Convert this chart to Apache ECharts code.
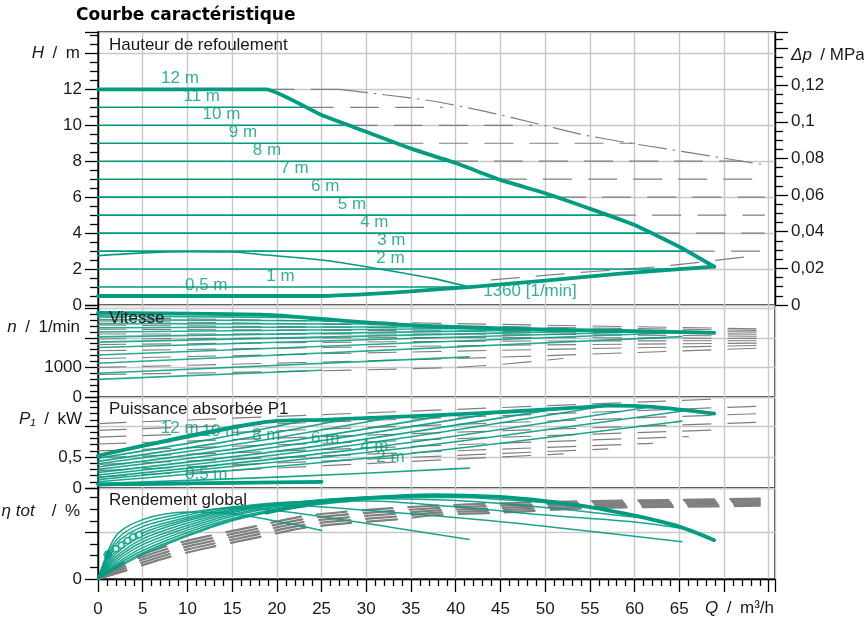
<!DOCTYPE html>
<html><head><meta charset="utf-8">
<script src="https://cdn.jsdelivr.net/npm/echarts@6/dist/echarts.min.js"></script>
<style>html,body{margin:0;padding:0;background:#fff}#c{width:864px;height:619px}</style>
</head><body><div id="c"></div>
<script>
// ---------- data ----------
const heads      = [12, 11, 10, 9, 8, 7, 6, 5, 4, 3, 2, 1, 0.5];
const headEndQ   = [18.8, 23.2, 28.1, 33.2, 39.3, 44.8, 51.4, 57.0, 61.9, 65.8, 65.3, 41.5, 25];
const maxCurveQ  = [0, 18.8, 25, 30, 35, 40, 45, 50, 55, 60, 65, 68.9];
const maxCurveH  = [12, 12, 10.57, 9.64, 8.7, 7.9, 6.96, 6.22, 5.36, 4.45, 3.24, 2.13];
const minCurveQ  = [0, 25, 30, 35, 41.5, 50, 58.4, 68.9];
const minCurveH  = [0.5, 0.5, 0.6, 0.76, 1.0, 1.36, 1.75, 2.13];
const rpm1360Q   = [0, 5, 10, 15, 18.8, 25, 30, 37.4, 41.5];
const rpm1360H   = [2.74, 2.9, 2.97, 2.95, 2.78, 2.5, 2.13, 1.48, 1.0];
const grayHeadLevels = [12, 11, 10, 9, 8, 7, 6, 5, 4, 3];
const grayHeadFromQ  = [18.8, 23.2, 28.1, 33.2, 39.3, 44.8, 51.4, 57.0, 61.9, 65.8];
const grayHeadToQ    = [27, 38.5, 48.5, 60, 72, 74.5, 74.5, 74.5, 74.5, 74.5];
const grayMaxQ = [27, 32, 37.4, 43, 49, 54, 59, 64, 69, 74.5];
const grayMaxH = [12, 11.7, 11.35, 10.8, 10.1, 9.5, 9.05, 8.65, 8.25, 7.8];
const grayMinQ = [44, 55, 63, 73.3];
const grayMinH = [1.4, 1.85, 2.15, 2.73];
const headLabelText = ['12 m','11 m','10 m','9 m','8 m','7 m','6 m','5 m','4 m','3 m','2 m','1 m','0,5 m','1360 [1/min]'];
const headLabelQ    = [9.17, 11.6, 13.8, 16.2, 18.9, 21.96, 25.4, 28.4, 30.9, 32.8, 32.7, 20.4, 12.1, 48.3];
const headLabelH    = [12.62, 11.59, 10.61, 9.59, 8.59, 7.61, 6.58, 5.6, 4.6, 3.58, 2.6, 1.58, 1.07, 0.74];

const speedStart = [2840, 2740, 2615, 2480, 2340, 2195, 2030, 1855, 1670, 1420, 1140, 800, 595];
const speedEnd   = [2775, 2680, 2565, 2465, 2373, 2322, 2275, 2244, 2214, 2188, 2040, 1356, 905];
const speedMaxQ  = [0, 18.8, 25, 30, 37.4, 48.3, 58.4, 68.9];
const speedMaxN  = [2840, 2775, 2640, 2520, 2390, 2290, 2237, 2169];
const speedGrayStart = [2700, 2570, 2430, 2290, 2130, 1960, 1770, 1560, 1300, 1000, 760];
const speedGrayMid   = [2480, 2400, 2320, 2230, 2130, 2010, 1880, 1730, 1550, 1300, 1000];
const speedGrayEndQ  = [74, 74, 74, 74, 74, 74, 74, 74, 74, 74, 52];
const speedGrayEnd   = [2300, 2250, 2190, 2120, 2050, 1980, 1900, 1820, 1740, 1650, 1300];

const powerStart = [0.52, 0.48, 0.43, 0.39, 0.34, 0.30, 0.25, 0.21, 0.17, 0.135, 0.10, 0.07, 0.04];
const powerMidQ  = [9.4, 11.6, 14.05, 16.6, 19.65, 22.4, 25.7, 28.5, 30.95, 32.9, 32.65, 20.75, 12.5];
const powerMid   = [0.79, 0.76, 0.74, 0.73, 0.72, 0.71, 0.70, 0.69, 0.66, 0.62, 0.52, 0.18, 0.065];
const powerEnd   = [1.065, 1.09, 1.12, 1.15, 1.18, 1.22, 1.28, 1.33, 1.31, 1.25, 1.08, 0.32, 0.10];
const powerMaxQ  = [0, 18.8, 25, 37.4, 48.3, 55, 57, 62, 68.9];
const powerMaxP  = [0.52, 1.065, 1.10, 1.17, 1.25, 1.31, 1.33, 1.31, 1.20];
const powerMinQ  = [0, 25];
const powerMinP  = [0.06, 0.10];
const powerGrayStart = [1.04, 0.93, 0.82, 0.71, 0.60, 0.49, 0.38, 0.28, 0.18];
const powerGrayEndQ  = [70, 74, 74, 74, 70, 66, 62, 57, 52];
const powerGrayEnd   = [1.44, 1.32, 1.20, 1.06, 0.94, 0.83, 0.72, 0.63, 0.55];
const powerLabelText = ['12 m', '10 m', '8 m', '6 m', '4 m', '2 m', '0,5 m'];
const powerLabelQ    = [9.14, 13.7, 18.8, 25.4, 30.9, 32.7, 12.1];
const powerLabelP    = [0.968, 0.915, 0.85, 0.80, 0.68, 0.50, 0.22];

const effH12  = [[0,0],[2,9],[5,21],[10,37],[15,50],[18.8,57]];
const effH11  = [[0,0],[2,10],[5,22.5],[10,38],[15,51],[20,59],[23.2,62]];
const effH10  = [[0,0],[2,11.5],[5,24.5],[10,40],[15,52],[20,60],[28.1,66.5]];
const effH9   = [[0,0],[2,13],[5,27],[10,42],[15,54],[20,61.5],[30,68.5],[33.2,69.5]];
const effH8   = [[0,0],[2,15],[5,29.5],[10,44],[15,55.5],[20,62.5],[30,69.5],[39.3,71.5]];
const effH7   = [[0,0],[2,17],[5,32],[10,46],[15,57],[20,63.5],[30,70],[40,72],[44.8,71]];
const effH6   = [[0,0],[2,19],[5,34.5],[10,48],[15,58],[20,64],[30,70.5],[40,71.5],[51.4,66.5]];
const effH5   = [[0,0],[2,21.5],[5,37],[10,50],[15,59],[20,64.5],[30,70],[40,70],[50,65.5],[57,60]];
const effH4   = [[0,0],[2,24],[5,39.5],[10,51.5],[15,60],[20,65],[30,69],[40,67.5],[50,61.5],[61.9,51.5]];
const effH3   = [[0,0],[2,27],[5,42],[10,53],[15,61],[20,65.5],[30,67],[40,62],[50,55],[60,49],[65.8,43]];
const effH2   = [[0,0],[2,30],[5,45],[10,55],[15,62],[20,63.5],[30,59],[44,50],[55,41],[65.3,32]];
const effH1   = [[0,0],[2,33],[5,48],[10,57],[15,61],[21.5,57.4],[32.7,44.5],[41.5,34]];
const effH05  = [[0,0],[2,37],[5,51],[10,57.5],[15,56],[21.5,47.4],[25,41.7]];
const effMax  = [[18.8,57],[25,66],[30,69.5],[37.4,72],[44.9,70.5],[50,67],[53.6,63.4],[57,59],[60.7,53.4],[65,45],[68.9,33.4]];
const effGray1 = [[0,0],[3,15],[8,29],[13,38],[18,46],[23,54],[28,58],[33,61],[38,63],[45,65],[55,67],[65,68],[74,69]];
const effGray2 = [[0,0],[3,13],[8,26.5],[13,35.5],[18,43.5],[23,51.5],[28,55.5],[33,58.5],[38,61],[45,63],[55,65.5],[65,66.5],[74,67.5]];
const effGray3 = [[0,0],[3,11],[8,24],[13,33],[18,41],[23,49],[28,53],[33,56],[38,59],[45,61],[55,64],[65,65],[74,66]];
const effGray4 = [[0,0],[3,9],[8,21.5],[13,30.5],[18,38.5],[23,46.5],[28,50.5],[33,53.5],[38,57],[45,59],[55,62.5],[65,63.5],[74,64.5]];
const effGray5 = [[0,0],[3,7],[8,19],[13,28],[18,36],[23,44],[28,48],[33,51],[38,55],[45,57],[55,61],[65,62],[74,63]];
const effDotQ = [1.1, 2.0, 2.6, 3.3, 3.9, 4.6];
const effDotV = [21, 26, 29, 33, 36, 38];

// ---------- style ----------
const GREEN = '#009c82', GRAY = '#7f7f7f', GRIDC = '#c8c8c8', INK = '#1a1a1a';
const FONT = '"Liberation Sans", Arial, sans-serif';
const DASH = [28, 17];

const chart = echarts.init(document.getElementById('c'), null, {renderer: 'canvas'});

const grids = [
  {left: 98, right: 89, top: 32, height: 273},
  {left: 98, right: 89, top: 305, height: 92},
  {left: 98, right: 89, top: 397, height: 91},
  {left: 98, right: 89, top: 488, height: 91}
].map(g => Object.assign(g, {show: true, borderColor: '#000', borderWidth: 1.4, containLabel: false}));

const xAxes = [0, 1, 2, 3].map(i => ({
  type: 'value', gridIndex: i, min: 0, max: 75.7, interval: 5,
  axisLine: {show: i === 3, onZero: false, lineStyle: {color: '#000', width: 1.4}},
  axisTick: {show: i === 3, length: 13, lineStyle: {color: '#000', width: 1.3}},
  minorTick: {show: i === 3, splitNumber: 5, length: 7, lineStyle: {color: '#000', width: 1.3}},
  axisLabel: {show: i === 3, margin: 22, fontSize: 17, fontFamily: FONT, color: INK,
    formatter: v => (v <= 65 && Math.abs(v % 5) < 1e-6) ? String(v) : ''},
  splitLine: {show: true, lineStyle: {color: GRIDC, width: 1.4}}
}));

function yAx(grid, min, max, interval, minorSplit, fmt, pos, extra) {
  return Object.assign({
    type: 'value', gridIndex: grid, min: min, max: max, interval: interval, position: pos || 'left',
    axisLine: {show: true, lineStyle: {color: '#000', width: 1.4}},
    axisTick: {show: true, length: 13, lineStyle: {color: '#000', width: 1.3}},
    minorTick: {show: true, splitNumber: minorSplit, length: 8, lineStyle: {color: '#000', width: 1.3}},
    axisLabel: {margin: 16, fontSize: 17, fontFamily: FONT, color: INK, formatter: fmt},
    splitLine: {show: true, lineStyle: {color: GRIDC, width: 1.4}}
  }, extra || {});
}
const near = (a, b) => Math.abs(a - b) < 1e-6;
const yAxes = [
  yAx(0, 0, 15.19, 2, 4, v => (v <= 12.001 && near(v, Math.round(v))) ? String(Math.round(v)) : ''),
  yAx(0, 0, 0.149, 0.02, 4, v => (v < 0.13 && near(v * 50, Math.round(v * 50))) ? String(parseFloat(v.toFixed(3))).replace('.', ',') : '', 'right', {splitLine: {show: false}}),
  yAx(1, 0, 3108, 1000, 5, v => (near(v, 0) || near(v, 1000)) ? String(Math.round(v)) : ''),
  yAx(2, 0, 1.468, 0.5, 5, v => near(v, 0) ? '0' : (near(v, 0.5) ? '0,5' : '')),
  yAx(3, 0, 78.2, 40, 4, v => near(v, 0) ? '0' : '')
];

const series = [];
function line(xi, yi, data, color, width, type, z, opacity, smooth) {
  series.push({type: 'line', xAxisIndex: xi, yAxisIndex: yi, data: data, showSymbol: false, symbol: 'none',
    smooth: smooth == null ? 0.3 : smooth, silent: true, animation: false, z: z,
    lineStyle: {color: color, width: width, type: type || 'solid', opacity: opacity == null ? 1 : opacity, cap: 'round', join: 'round'}});
}
function labels(xi, yi, qs, vs, texts, color) {
  series.push({type: 'scatter', xAxisIndex: xi, yAxisIndex: yi, symbolSize: 0.1, silent: true, animation: false, z: 10,
    data: qs.map((q, i) => ({value: [q, vs[i]], name: texts[i]})),
    label: {show: true, position: 'inside', formatter: p => p.name, fontSize: 17, fontFamily: FONT, color: color}});
}
const zip = (a, b) => a.map((v, i) => [v, b[i]]);

// ----- H panel -----
grayHeadLevels.forEach((h, i) => line(0, 0, [[grayHeadFromQ[i], h], [grayHeadToQ[i], h]], GRAY, 1.2, DASH, 2));
line(0, 0, zip(grayMaxQ, grayMaxH), GRAY, 1.2, [28, 7, 1.5, 7], 2);
line(0, 0, zip(grayMinQ, grayMinH), GRAY, 1.2, DASH, 2);
heads.forEach((h, i) => line(0, 0, [[0, h], [headEndQ[i], h]], GREEN, 1.6, 'solid', 3));
line(0, 0, zip(rpm1360Q, rpm1360H), GREEN, 1.6, 'solid', 3);
line(0, 0, zip(maxCurveQ, maxCurveH), GREEN, 3.8, 'solid', 4, 1, 0.15);
line(0, 0, zip(minCurveQ, minCurveH), GREEN, 3.8, 'solid', 4, 1, 0.15);
labels(0, 0, headLabelQ, headLabelH, headLabelText, GREEN);

// ----- n panel -----
speedGrayStart.forEach((n, i) => line(1, 2, [[0, n], [40, speedGrayMid[i]], [speedGrayEndQ[i], speedGrayEnd[i]]], GRAY, 1.1, DASH, 2));
heads.forEach((h, i) => line(1, 2, [[0, speedStart[i]], [headEndQ[i], speedEnd[i]]], GREEN, 1.6, 'solid', 3, 0.85));
line(1, 2, zip(speedMaxQ, speedMaxN), GREEN, 3.8, 'solid', 4);

// ----- P panel -----
powerGrayStart.forEach((p, i) => line(2, 3, [[0, p], [powerGrayEndQ[i], powerGrayEnd[i]]], GRAY, 1.2, DASH, 2));
heads.forEach((h, i) => line(2, 3, [[0, powerStart[i]], [powerMidQ[i], powerMid[i]], [headEndQ[i], powerEnd[i]]], GREEN, 1.6, 'solid', 3, 0.9));
line(2, 3, zip(powerMaxQ, powerMaxP), GREEN, 3.8, 'solid', 4);
line(2, 3, zip(powerMinQ, powerMinP), GREEN, 3.8, 'solid', 4);
labels(2, 3, powerLabelQ, powerLabelP, powerLabelText, GREEN);

// ----- efficiency panel -----
[effGray1, effGray2, effGray3, effGray4, effGray5].forEach(d => line(3, 4, d, GRAY, 2.2, [30, 16], 2));
[effH12, effH11, effH10, effH9, effH8, effH7, effH6, effH5, effH4, effH3, effH2, effH1, effH05]
  .forEach(d => line(3, 4, d, GREEN, 1.5, 'solid', 3, 0.9));
line(3, 4, effMax, GREEN, 3.8, 'solid', 4);
series.push({type: 'scatter', xAxisIndex: 3, yAxisIndex: 4, silent: true, animation: false, z: 5,
  data: zip(effDotQ, effDotV).map((d, i) => ({value: d, symbolSize: i === 0 ? 9 : 6,
    itemStyle: i === 0 ? {color: GREEN} : {color: '#fff', borderColor: GREEN, borderWidth: 1.5}}))});

// ----- texts -----
const rich = {i: {fontStyle: 'italic', fontSize: 17, fontFamily: FONT, fill: INK}};
const SP = '\u2002';
function txt(x, y, text, align) {
  return {type: 'text', x: x, y: y, silent: true, z: 20,
    style: {text: text, fontSize: 17, fontFamily: FONT, fill: INK, align: align || 'left', verticalAlign: 'middle', rich: rich}};
}
const graphic = [
  {type: 'text', x: 76, y: 16, z: 20, style: {text: 'Courbe caractéristique', font: 'bold 17px "DejaVu Sans", Verdana, sans-serif', fill: '#000', verticalAlign: 'middle'}},
  txt(109, 45, 'Hauteur de refoulement'),
  txt(109, 318, 'Vitesse'),
  txt(109, 409, 'Puissance absorbée P1'),
  txt(109, 500, 'Rendement global'),
  txt(80, 53, '{i|H}' + SP + '/' + SP + 'm', 'right'),
  txt(791, 55, '{i|Δp}' + SP + '/ MPa', 'left'),
  txt(80, 327, '{i|n}' + SP + '/' + SP + '1/min', 'right'),
  txt(82, 419, '{i|P₁}' + SP + '/' + SP + 'kW', 'right'),
  txt(80, 511, '{i|η tot}' + SP + SP + '/' + SP + '%', 'right'),
  txt(774, 608, '{i|Q}' + SP + '/' + SP + 'm³/h', 'right')
];

chart.setOption({
  animation: false,
  backgroundColor: '#fff',
  grid: grids, xAxis: xAxes, yAxis: yAxes, series: series, graphic: graphic
});
</script></body></html>
